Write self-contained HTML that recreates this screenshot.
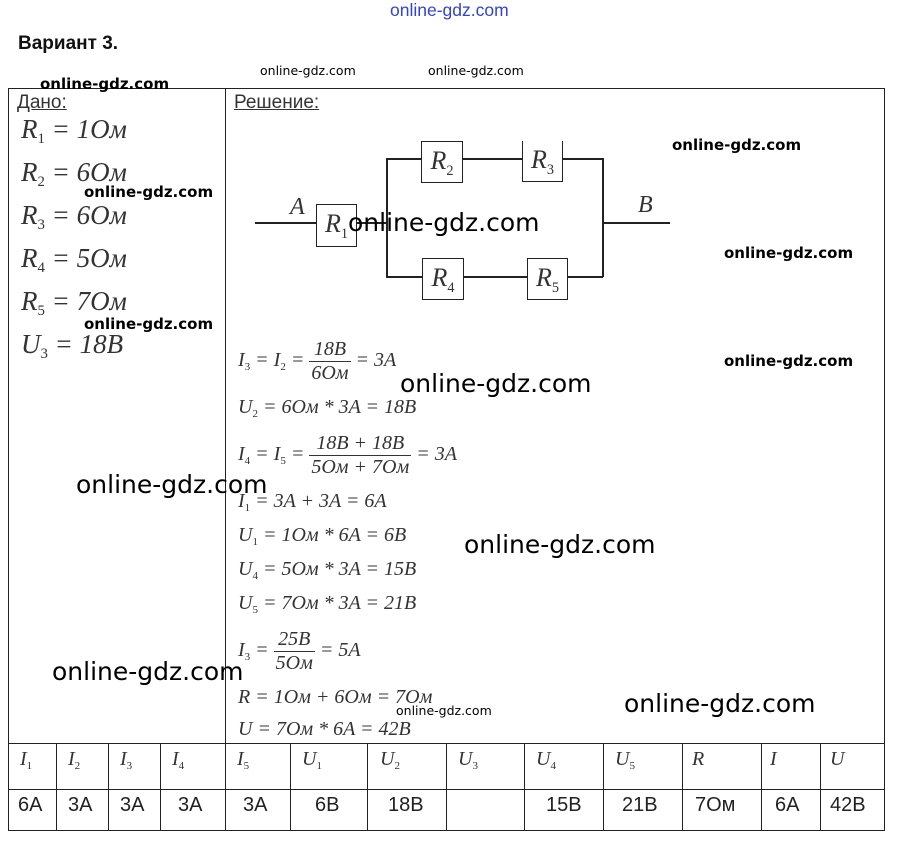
<!DOCTYPE html>
<html><head><meta charset="utf-8"><style>
body{margin:0;background:#fff;width:901px;height:843px;position:relative;overflow:hidden;font-family:"Liberation Sans",sans-serif;color:#111}
.a{position:absolute;white-space:nowrap}
.wm{font-family:"DejaVu Sans","Liberation Sans",sans-serif;color:#000}
.eq{font-family:"Liberation Serif",serif;font-style:italic;color:#333}
.eq sub{font-size:55%;font-style:normal;vertical-align:-0.35em}
.l{position:absolute;background:#222}
.box{position:absolute;border:1.5px solid #222;background:#fff;box-sizing:border-box;font-family:"Liberation Serif",serif;font-style:italic;font-size:26px;color:#333;text-align:center;line-height:38px}
.box sub{font-size:55%;font-style:normal}
.fr{display:inline-block;vertical-align:middle;text-align:center}
.fr span{display:block;padding:0 2px}
.fr .n{border-bottom:1px solid #333}
</style></head><body>
<div class="a" style="left:390px;top:0px;font-size:17.5px;color:#3344cc">online-gdz.com</div>
<div class="a" style="left:18px;top:33px;font-size:19px;font-weight:bold">Вариант 3.</div>
<div class="a wm" style="left:260px;top:63px;font-size:12.5px">online-gdz.com</div>
<div class="a wm" style="left:428px;top:63px;font-size:12.5px">online-gdz.com</div>

<div class="l" style="left:8px;top:88px;width:877px;height:1px"></div>
<div class="l" style="left:8px;top:88px;width:1px;height:742px"></div>
<div class="l" style="left:884px;top:88px;width:1px;height:742px"></div>
<div class="l" style="left:225px;top:88px;width:1px;height:655px"></div>
<div class="l" style="left:8px;top:743px;width:877px;height:1px"></div>
<div class="l" style="left:8px;top:789px;width:877px;height:1px"></div>
<div class="l" style="left:8px;top:830px;width:877px;height:1px"></div>

<div class="a" style="left:17px;top:92px;font-size:19px;text-decoration:underline;color:#333">Дано:</div>
<div class="a" style="left:234px;top:92px;font-size:19px;text-decoration:underline;color:#333">Решение:</div>
<div class="a wm" style="left:40px;top:75px;font-size:15px;font-weight:bold">online-gdz.com</div>

<div class="a eq" style="left:21px;top:114px;font-size:27px">R<sub>1</sub> = 1Ом</div>
<div class="a eq" style="left:21px;top:157px;font-size:27px">R<sub>2</sub> = 6Ом</div>
<div class="a eq" style="left:21px;top:200px;font-size:27px">R<sub>3</sub> = 6Ом</div>
<div class="a eq" style="left:21px;top:243px;font-size:27px">R<sub>4</sub> = 5Ом</div>
<div class="a eq" style="left:21px;top:286px;font-size:27px">R<sub>5</sub> = 7Ом</div>
<div class="a eq" style="left:21px;top:329px;font-size:27px">U<sub>3</sub> = 18В</div>
<div class="a wm" style="left:84px;top:183px;font-size:15px;font-weight:bold">online-gdz.com</div>
<div class="a wm" style="left:84px;top:315px;font-size:15px;font-weight:bold">online-gdz.com</div>

<div class="l" style="left:255px;top:222px;width:62px;height:1.5px"></div>
<div class="l" style="left:357px;top:222px;width:29px;height:1.5px"></div>
<div class="l" style="left:386px;top:158px;width:1.5px;height:119px"></div>
<div class="l" style="left:386px;top:158px;width:217px;height:1.5px"></div>
<div class="l" style="left:386px;top:276px;width:217px;height:1.5px"></div>
<div class="l" style="left:602px;top:158px;width:1.5px;height:119px"></div>
<div class="l" style="left:603px;top:222px;width:67px;height:1.5px"></div>
<div class="box" style="left:316px;top:204px;width:41px;height:43px">R<sub>1</sub></div>
<div class="box" style="left:421px;top:141px;width:42px;height:42px">R<sub>2</sub></div>
<div class="box" style="left:522px;top:141px;width:41px;height:41px;border-top:none">R<sub>3</sub></div>
<div class="box" style="left:422px;top:258px;width:42px;height:42px">R<sub>4</sub></div>
<div class="box" style="left:527px;top:258px;width:41px;height:42px">R<sub>5</sub></div>
<div class="a eq" style="left:290px;top:194px;font-size:24px">A</div>
<div class="a eq" style="left:638px;top:192px;font-size:24px">B</div>
<div class="a wm" style="left:348px;top:208px;font-size:25px">online-gdz.com</div>
<div class="a wm" style="left:672px;top:136px;font-size:15px;font-weight:bold">online-gdz.com</div>
<div class="a wm" style="left:724px;top:244px;font-size:15px;font-weight:bold">online-gdz.com</div>
<div class="a wm" style="left:724px;top:352px;font-size:15px;font-weight:bold">online-gdz.com</div>

<div class="a eq" style="left:238px;top:338px;font-size:20px">I<sub>3</sub> = I<sub>2</sub> = <span class="fr"><span class="n">18В</span><span>6Ом</span></span> = 3A</div>
<div class="a eq" style="left:238px;top:396px;font-size:20px">U<sub>2</sub> = 6Ом * 3A = 18В</div>
<div class="a eq" style="left:238px;top:432px;font-size:20px">I<sub>4</sub> = I<sub>5</sub> = <span class="fr"><span class="n">18В + 18В</span><span>5Ом + 7Ом</span></span> = 3A</div>
<div class="a eq" style="left:238px;top:490px;font-size:20px">I<sub>1</sub> = 3A + 3A = 6A</div>
<div class="a eq" style="left:238px;top:524px;font-size:20px">U<sub>1</sub> = 1Ом * 6A = 6В</div>
<div class="a eq" style="left:238px;top:558px;font-size:20px">U<sub>4</sub> = 5Ом * 3A = 15В</div>
<div class="a eq" style="left:238px;top:592px;font-size:20px">U<sub>5</sub> = 7Ом * 3A = 21В</div>
<div class="a eq" style="left:238px;top:628px;font-size:20px">I<sub>3</sub> = <span class="fr"><span class="n">25В</span><span>5Ом</span></span> = 5A</div>
<div class="a eq" style="left:238px;top:686px;font-size:20px">R = 1Ом + 6Ом = 7Ом</div>
<div class="a eq" style="left:238px;top:718px;font-size:20px">U = 7Ом * 6A = 42В</div>

<div class="a wm" style="left:400px;top:369px;font-size:25px">online-gdz.com</div>
<div class="a wm" style="left:76px;top:470px;font-size:25px">online-gdz.com</div>
<div class="a wm" style="left:464px;top:530px;font-size:25px">online-gdz.com</div>
<div class="a wm" style="left:52px;top:657px;font-size:25px">online-gdz.com</div>
<div class="a wm" style="left:624px;top:689px;font-size:25px">online-gdz.com</div>
<div class="a wm" style="left:396px;top:703px;font-size:12.5px">online-gdz.com</div>

<div class="l" style="left:56px;top:743px;width:1px;height:87px"></div>
<div class="l" style="left:108px;top:743px;width:1px;height:87px"></div>
<div class="l" style="left:160px;top:743px;width:1px;height:87px"></div>
<div class="l" style="left:225px;top:743px;width:1px;height:87px"></div>
<div class="l" style="left:290px;top:743px;width:1px;height:87px"></div>
<div class="l" style="left:367px;top:743px;width:1px;height:87px"></div>
<div class="l" style="left:446px;top:743px;width:1px;height:87px"></div>
<div class="l" style="left:524px;top:743px;width:1px;height:87px"></div>
<div class="l" style="left:603px;top:743px;width:1px;height:87px"></div>
<div class="l" style="left:682px;top:743px;width:1px;height:87px"></div>
<div class="l" style="left:761px;top:743px;width:1px;height:87px"></div>
<div class="l" style="left:820px;top:743px;width:1px;height:87px"></div>

<div class="a eq" style="left:20px;top:748px;font-size:20px">I<sub>1</sub></div>
<div class="a eq" style="left:68px;top:748px;font-size:20px">I<sub>2</sub></div>
<div class="a eq" style="left:120px;top:748px;font-size:20px">I<sub>3</sub></div>
<div class="a eq" style="left:172px;top:748px;font-size:20px">I<sub>4</sub></div>
<div class="a eq" style="left:237px;top:748px;font-size:20px">I<sub>5</sub></div>
<div class="a eq" style="left:302px;top:748px;font-size:20px">U<sub>1</sub></div>
<div class="a eq" style="left:380px;top:748px;font-size:20px">U<sub>2</sub></div>
<div class="a eq" style="left:458px;top:748px;font-size:20px">U<sub>3</sub></div>
<div class="a eq" style="left:536px;top:748px;font-size:20px">U<sub>4</sub></div>
<div class="a eq" style="left:615px;top:748px;font-size:20px">U<sub>5</sub></div>
<div class="a eq" style="left:692px;top:748px;font-size:20px">R</div>
<div class="a eq" style="left:770px;top:748px;font-size:20px">I</div>
<div class="a eq" style="left:830px;top:748px;font-size:20px">U</div>

<div class="a" style="left:18px;top:794px;font-size:20px;color:#222">6A</div>
<div class="a" style="left:68px;top:794px;font-size:20px;color:#222">3A</div>
<div class="a" style="left:120px;top:794px;font-size:20px;color:#222">3A</div>
<div class="a" style="left:178px;top:794px;font-size:20px;color:#222">3A</div>
<div class="a" style="left:243px;top:794px;font-size:20px;color:#222">3A</div>
<div class="a" style="left:315px;top:794px;font-size:20px;color:#222">6В</div>
<div class="a" style="left:388px;top:794px;font-size:20px;color:#222">18В</div>
<div class="a" style="left:546px;top:794px;font-size:20px;color:#222">15В</div>
<div class="a" style="left:622px;top:794px;font-size:20px;color:#222">21В</div>
<div class="a" style="left:695px;top:794px;font-size:20px;color:#222">7Ом</div>
<div class="a" style="left:775px;top:794px;font-size:20px;color:#222">6A</div>
<div class="a" style="left:830px;top:794px;font-size:20px;color:#222">42В</div>
</body></html>
